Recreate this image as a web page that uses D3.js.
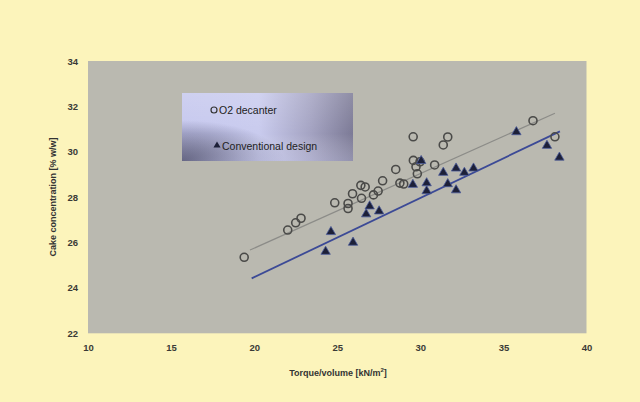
<!DOCTYPE html>
<html>
<head>
<meta charset="utf-8">
<script src="https://cdn.jsdelivr.net/npm/d3@7/dist/d3.min.js"></script>
<style>
html,body{margin:0;padding:0;background:#fcf4bb;}
svg{display:block;}
text{font-family:"Liberation Sans",Arial,sans-serif;}
</style>
</head>
<body>
<script>
// ---- data ----
const o2X = [19.4,22.02,22.5,22.82,24.85,25.65,25.65,25.92,26.42,26.68,26.46,27.18,27.46,27.73,28.52,28.77,29.0,29.57,29.58,29.98,29.74,29.82,30.86,31.38,31.65,36.78,38.1];
const o2Y = [25.35,26.55,26.87,27.07,27.75,27.72,27.5,28.15,28.52,28.45,27.95,28.1,28.27,28.72,29.22,28.62,28.58,30.66,29.62,29.56,29.34,29.03,29.42,30.3,30.65,31.37,30.66];
const convX = [24.3,24.62,25.95,26.74,26.95,27.52,29.55,30.05,30.38,30.38,31.38,31.65,32.15,32.15,32.65,33.2,35.78,37.62,38.37];
const convY = [25.6,26.47,26.0,27.25,27.6,27.38,28.55,29.6,28.62,28.27,29.08,28.58,29.27,28.31,29.08,29.27,30.87,30.27,29.75];
const o2TrendX = [19.75,38.1];
const o2TrendY = [25.67,31.7];
const convTrendX = [19.85,38.4];
const convTrendY = [24.42,30.9];
const xTicks = [10,15,20,25,30,35,40];
const yTicks = [22,24,26,28,30,32,34];
const seriesNames = ["O2 decanter","Conventional design"];

const W=640,H=402;
const svg=d3.select("body").append("svg").attr("width",W).attr("height",H);
svg.append("rect").attr("width",W).attr("height",H).attr("fill","#fcf4bb");

const x=d3.scaleLinear().domain([10,40]).range([88,586.5]);
const y=d3.scaleLinear().domain([22,34]).range([333.3,61]);

const defs=svg.append("defs");
const g1=defs.append("linearGradient").attr("id","lgA").attr("x1","0%").attr("y1","0%").attr("x2","100%").attr("y2","0%");
g1.append("stop").attr("offset","0%").attr("stop-color","#c6c8ee");
g1.append("stop").attr("offset","45%").attr("stop-color","#c9cbee");
g1.append("stop").attr("offset","75%").attr("stop-color","#a4a3c2");
g1.append("stop").attr("offset","100%").attr("stop-color","#7c7a96");
const g2=defs.append("radialGradient").attr("id","lgB").attr("cx","0%").attr("cy","100%").attr("r","60%")
  .attr("gradientTransform","translate(0,0)");
g2.append("stop").attr("offset","0%").attr("stop-color","#3a3a58").attr("stop-opacity",0.95);
g2.append("stop").attr("offset","60%").attr("stop-color","#3a3a58").attr("stop-opacity",0.35);
g2.append("stop").attr("offset","100%").attr("stop-color","#3a3a58").attr("stop-opacity",0);
const g3=defs.append("linearGradient").attr("id","lgC").attr("x1","0%").attr("y1","0%").attr("x2","0%").attr("y2","100%");
g3.append("stop").attr("offset","0%").attr("stop-color","#ffffff").attr("stop-opacity",0.15);
g3.append("stop").attr("offset","60%").attr("stop-color","#ffffff").attr("stop-opacity",0);
g3.append("stop").attr("offset","100%").attr("stop-color","#d8daf6").attr("stop-opacity",0.25);

// plot area
svg.append("rect").attr("x",x(10)).attr("y",y(34)).attr("width",x(40)-x(10)).attr("height",y(22)-y(34))
  .attr("fill","#bab9b0");

// axes (labels only)
const xa=svg.append("g").attr("transform",`translate(0,${y(22)})`)
  .call(d3.axisBottom(x).tickValues(xTicks).tickSize(0).tickPadding(11).tickFormat(d3.format("d")));
const ya=svg.append("g").attr("transform",`translate(${x(10)},0)`)
  .call(d3.axisLeft(y).tickValues(yTicks).tickSize(0).tickPadding(10).tickFormat(d3.format("d")));
[xa,ya].forEach(a=>{a.select(".domain").remove();
  a.selectAll("text").attr("font-size",9.5).attr("font-weight","bold").attr("fill","#3a3a36").style("font-family","'Liberation Sans',Arial,sans-serif");});

const xt=svg.append("text").attr("x",338).attr("y",376).attr("text-anchor","middle").attr("font-size",9)
  .attr("font-weight","bold").attr("fill","#333");
xt.append("tspan").text("Torque/volume [kN/m");
xt.append("tspan").attr("dy",-4).attr("font-size",6).text("2");
xt.append("tspan").attr("dy",4).text("]");

svg.append("text").attr("transform",`translate(56,197) rotate(-90)`).attr("text-anchor","middle")
  .attr("font-size",9).attr("font-weight","bold").attr("fill","#333").text("Cake concentration [% w/w]");

// trend lines
const line=d3.line().x(d=>x(d[0])).y(d=>y(d[1]));
svg.append("path").attr("d",line(d3.zip(o2TrendX,o2TrendY))).attr("stroke","#8c8c88").attr("stroke-width",1.2).attr("fill","none");
svg.append("path").attr("d",line(d3.zip(convTrendX,convTrendY))).attr("stroke","#3c4a96").attr("stroke-width",1.8).attr("fill","none");

// points
const tri=d3.symbol().type(d3.symbolTriangle).size(38);
svg.append("g").selectAll("circle").data(d3.zip(o2X,o2Y)).join("circle")
  .attr("cx",d=>x(d[0])).attr("cy",d=>y(d[1])).attr("r",4)
  .attr("fill","none").attr("stroke","#4a4a48").attr("stroke-width",1.6);
svg.append("g").selectAll("path").data(d3.zip(convX,convY)).join("path")
  .attr("d",tri).attr("transform",d=>`translate(${x(d[0])},${y(d[1])})`)
  .attr("fill","#1d2038").attr("stroke","#4a5a9a").attr("stroke-width",0.8);

// legend
const lg=svg.append("g");
lg.append("rect").attr("x",182).attr("y",93).attr("width",171).attr("height",68).attr("fill","url(#lgA)");
lg.append("rect").attr("x",182).attr("y",93).attr("width",171).attr("height",68).attr("fill","url(#lgB)");
lg.append("rect").attr("x",182).attr("y",93).attr("width",171).attr("height",68).attr("fill","url(#lgC)");
lg.append("circle").attr("cx",214).attr("cy",110).attr("r",3).attr("fill","none").attr("stroke","#333").attr("stroke-width",1.2);
lg.append("text").attr("x",219).attr("y",114).attr("font-size",10.5).attr("fill","#222").text(seriesNames[0]);
lg.append("path").attr("d",d3.symbol().type(d3.symbolTriangle).size(22)).attr("transform","translate(217,145.5)").attr("fill","#1d2038");
lg.append("text").attr("x",222).attr("y",149.5).attr("font-size",10.5).attr("fill","#222").text(seriesNames[1]);
</script>
</body>
</html>
